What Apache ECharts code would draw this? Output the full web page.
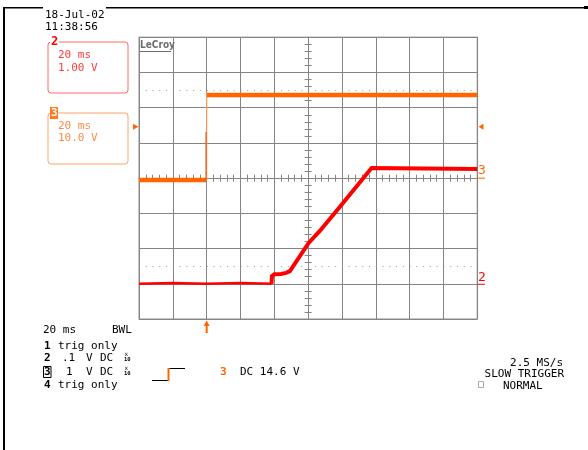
<!DOCTYPE html>
<html><head><meta charset="utf-8">
<script src="https://cdn.jsdelivr.net/npm/echarts@6/dist/echarts.min.js"></script>
<style>html,body{margin:0;padding:0;background:#fff}#c{width:588px;height:450px}</style>
</head><body><div id="c"></div>
<script>
// ---- axis ranges (oscilloscope: 10 x 8 divisions) ----
const divRangeX = [-5, 5];
const divRangeY = [-4, 4];
const timeRangeMs = [-40, 160];   // 20 ms/div, trigger 2 div from left
const ch2RangeV = [-1, 7];        // 1 V/div, ground 1 div above bottom
const ch3RangeV = [-40, 40];      // 10 V/div, ground at centre
const dottedLevelsDiv = [2.5, -2.5];
const trigLevelV = 14.6;
const trigTimeMs = 0;
const ch2GroundV = 0, ch3GroundV = 0;

// ---- channel 3 (orange) ----
const ch3Low   = [[-40, -0.5], [-0.2, -0.5]];
const ch3Edge  = [[0, -0.5], [0, 24.4]];
const ch3Spike = [[-0.4, -0.5], [-0.4, 13.1]];
const ch3High  = [[0.2, 23.6], [160, 23.6]];

// ---- channel 2 (red) ----
const ch2Base = [[-40, 0.0], [-20, 0.02], [0, 0.0], [20, 0.02], [38.3, 0.0]];
const ch2Rise = [[38.3, 0.0], [38.6, 0.22], [40, 0.27], [44, 0.28], [47, 0.31], [49.2, 0.36],
                 [60.3, 1.16], [66.9, 1.5], [78.8, 2.19], [97.5, 3.29], [98.5, 3.26], [160, 3.26]];

// ---- texts ----
const dateText = ['18-Jul-02', '11:38:56'];
const ch2Box = ['20 ms', '1.00 V'];
const ch3Box = ['20 ms', '10.0 V'];
const bottomLines = ['20 ms', 'BWL'];
const rightTexts = ['2.5 MS/s', 'SLOW TRIGGER', 'NORMAL'];
const trigText = 'DC 14.6 V';

const MONO = "'DejaVu Sans Mono', monospace";
const GRIDC = '#858585';
const ORANGE = '#ff6600', RED = '#ff0000';

const chart = echarts.init(document.getElementById('c'), null, {renderer: 'canvas'});

function centreX(pos) {
  return {type: 'value', gridIndex: 0, min: divRangeX[0], max: divRangeX[1], interval: 1, position: pos,
    axisLine: {show: true, onZero: true, onZeroAxisIndex: 0, lineStyle: {color: GRIDC, width: 1}},
    axisTick: {show: true, inside: false, length: 3.5, lineStyle: {color: GRIDC}},
    minorTick: {show: true, splitNumber: 5, length: 3.5, lineStyle: {color: GRIDC}},
    axisLabel: {show: false},
    splitLine: {show: pos === 'bottom', lineStyle: {color: GRIDC, width: 1}}};
}
function centreY(pos) {
  return {type: 'value', gridIndex: 0, min: divRangeY[0], max: divRangeY[1], interval: 1, position: pos,
    axisLine: {show: true, onZero: true, onZeroAxisIndex: 0, lineStyle: {color: GRIDC, width: 1}},
    axisTick: {show: true, inside: false, length: 3.5, lineStyle: {color: GRIDC}},
    minorTick: {show: true, splitNumber: 5, length: 3.5, lineStyle: {color: GRIDC}},
    axisLabel: {show: false},
    splitLine: {show: pos === 'left', lineStyle: {color: GRIDC, width: 1}}};
}

function trace(data, color, width, yIdx, z) {
  return {type: 'line', xAxisIndex: 2, yAxisIndex: yIdx, data: data, showSymbol: false, symbol: 'none',
    silent: true, z: z || 3, lineStyle: {color: color, width: width, cap: 'butt', join: 'miter'}};
}

chart.setOption({
  animation: false,
  backgroundColor: '#fff',
  grid: {left: 139, top: 37.3, width: 338.3, height: 281.7, show: true, borderColor: '#b4b4b4', borderWidth: 1.5},
  xAxis: [centreX('bottom'), centreX('top'),
    {type: 'value', gridIndex: 0, min: timeRangeMs[0], max: timeRangeMs[1], show: false, axisLine: {onZero: false}, splitLine: {show: false}}],
  yAxis: [centreY('left'), centreY('right'),
    {type: 'value', gridIndex: 0, min: ch2RangeV[0], max: ch2RangeV[1], show: false, axisLine: {onZero: false}, splitLine: {show: false}},
    {type: 'value', gridIndex: 0, min: ch3RangeV[0], max: ch3RangeV[1], show: false, axisLine: {onZero: false}, splitLine: {show: false}}],
  series: [
    {type: 'line', xAxisIndex: 0, yAxisIndex: 0, data: [[divRangeX[0], dottedLevelsDiv[0]]], showSymbol: false, symbol: 'none', silent: true,
      lineStyle: {width: 0},
      markLine: {silent: true, symbol: ['none', 'none'], label: {show: false},
        lineStyle: {type: [1, 5.765], color: '#9a9a9a', width: 1},
        data: dottedLevelsDiv.map(v => ({yAxis: v}))}},
    trace(ch3Low, ORANGE, 4.5, 3),
    trace(ch3Edge, '#ff9955', 1.2, 3),
    trace(ch3Spike, '#d05010', 1, 3),
    trace(ch3High, ORANGE, 4.5, 3),
    trace(ch2Base, RED, 2.5, 2, 4),
    trace(ch2Rise, RED, 4, 2, 4)
  ]
});

// ---- decorations positioned through the axes ----
const trigX = chart.convertToPixel({xAxisIndex: 2}, trigTimeMs);
const trigY = chart.convertToPixel({yAxisIndex: 3}, trigLevelV);
const g2Y = chart.convertToPixel({yAxisIndex: 2}, ch2GroundV);
const g3Y = chart.convertToPixel({yAxisIndex: 3}, ch3GroundV);

function txt(x, y, s, opt) {
  opt = opt || {};
  return {type: 'text', x: x, y: y, z: 100, silent: true,
    style: Object.assign({text: s, font: (opt.weight || 'normal') + ' ' + (opt.size || 11) + 'px ' + (opt.family || MONO),
      fill: opt.color || '#000', verticalAlign: 'middle', align: opt.align || 'left'}, opt.extra || {})};
}
function rect(x, y, w, h, style, r) {
  return {type: 'rect', z: 90, silent: true, shape: {x: x, y: y, width: w, height: h, r: r || 0}, style: style};
}
function line(x1, y1, x2, y2, color, w) {
  return {type: 'line', z: 95, silent: true, shape: {x1: x1, y1: y1, x2: x2, y2: y2}, style: {stroke: color, lineWidth: w || 1}};
}
function poly(points, color) {
  return {type: 'polygon', z: 95, silent: true, shape: {points: points}, style: {fill: color}};
}

const gfx = [
  // frame
  rect(3, 8, 2, 442, {fill: '#000'}),
  rect(3, 7, 40, 1.5, {fill: '#000'}),
  rect(106, 7, 482, 1.5, {fill: '#000'}),
  rect(584, 6, 4, 3, {fill: '#000'}),
  // date / time
  txt(45, 15, dateText[0]), txt(45, 27, dateText[1]),
  // channel 2 box
  rect(48, 42, 80, 51, {fill: 'none', stroke: '#ff6a6a', lineWidth: 1}, 3),
  rect(50, 37, 9, 10, {fill: '#fff'}),
  txt(51, 42, '2', {weight: 'bold', size: 12, color: RED}),
  txt(58, 55, ch2Box[0], {color: '#ff3c3c'}), txt(58, 68, ch2Box[1], {color: '#ff3c3c'}),
  // channel 3 box
  rect(48, 113, 80, 51, {fill: 'none', stroke: '#ffa366', lineWidth: 1}, 3),
  rect(50, 107, 8, 12, {fill: '#ff7a20'}),
  txt(51, 113.5, '3', {weight: 'bold', size: 11, color: '#fff'}),
  txt(58, 126, ch3Box[0], {color: '#ff8a45'}), txt(58, 138, ch3Box[1], {color: '#ff8a45'}),
  // LeCroy logo
  txt(140, 45.5, 'LeCroy', {weight: 'bold', size: 10, family: "'DejaVu Sans Condensed', 'DejaVu Sans', sans-serif", color: '#6e6e6e'}),
  line(140, 51.5, 171, 51.5, '#6e6e6e', 1),
  // trigger level arrows
  poly([[133, trigY - 3], [138.5, trigY], [133, trigY + 3]], ORANGE),
  poly([[483.5, trigY - 3], [478.5, trigY], [483.5, trigY + 3]], ORANGE),
  // trigger time arrow
  poly([[trigX - 3, 326], [trigX, 320.5], [trigX + 3, 326]], ORANGE),
  line(trigX, 325, trigX, 333, ORANGE, 2),
  // ground markers
  txt(478, g2Y - 6.5, '2', {size: 13, color: RED}),
  line(477.5, g2Y + 0.5, 485, g2Y + 0.5, RED, 1),
  txt(478, g3Y - 8, '3', {size: 13, color: ORANGE}),
  line(477.5, g3Y, 485, g3Y, ORANGE, 1),
  // bottom-left info
  txt(43, 330, bottomLines[0]), txt(112, 330, bottomLines[1]),
  txt(44, 346, '1', {weight: 'bold'}), txt(58, 346, 'trig only'),
  txt(44, 358, '2', {weight: 'bold'}), txt(62, 358, '.1'), txt(86, 358, 'V'), txt(100, 358, 'DC'),
  txt(124.5, 354.5, 'x', {size: 6}), txt(124, 359.5, '10', {size: 5.5, weight: 'bold'}),
  rect(43.5, 366.5, 7.5, 11, {fill: 'none', stroke: '#000', lineWidth: 1}),
  txt(44, 372, '3', {weight: 'bold'}), txt(66, 372, '1'), txt(86, 372, 'V'), txt(100, 372, 'DC'),
  txt(124.5, 368.5, 'x', {size: 6}), txt(124, 373.5, '10', {size: 5.5, weight: 'bold'}),
  txt(44, 385, '4', {weight: 'bold'}), txt(58, 385, 'trig only'),
  // trigger icon
  line(152, 380.5, 168, 380.5, '#000', 1),
  line(168.5, 381, 168.5, 368, ORANGE, 2),
  line(169.5, 368.5, 185, 368.5, '#000', 1),
  txt(220, 372, '3', {weight: 'bold', color: ORANGE}),
  txt(240, 372, trigText),
  // right info
  txt(563, 363, rightTexts[0], {align: 'right'}),
  txt(564, 374, rightTexts[1], {align: 'right'}),
  rect(478.5, 381.5, 5, 6, {fill: 'none', stroke: '#aaa', lineWidth: 1}),
  txt(503, 386, rightTexts[2])
];
chart.setOption({graphic: gfx});
</script>
</body></html>
